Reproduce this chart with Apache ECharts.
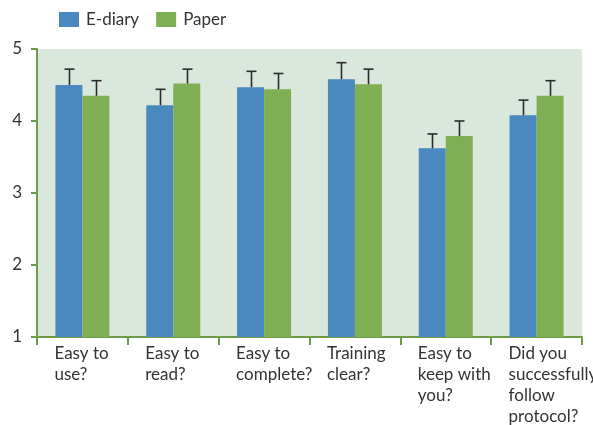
<!DOCTYPE html>
<html>
<head>
<meta charset="utf-8">
<script src="https://cdn.jsdelivr.net/npm/echarts@6/dist/echarts.min.js"></script>
<style>html,body{margin:0;padding:0;background:#fff}#c{width:593px;height:425px}</style>
</head>
<body>
<div id="c"></div>
<script>
const categories = ['Easy to\nuse?', 'Easy to\nread?', 'Easy to\ncomplete?', 'Training\nclear?', 'Easy to\nkeep with\nyou?', 'Did you\nsuccessfully\nfollow\nprotocol?'];
const seriesNames = ['E-diary', 'Paper'];
const ediary = [4.50, 4.22, 4.47, 4.58, 3.62, 4.08];
const ediaryUpper = [4.72, 4.44, 4.69, 4.81, 3.82, 4.29];
const paper = [4.35, 4.52, 4.44, 4.51, 3.79, 4.35];
const paperUpper = [4.56, 4.72, 4.66, 4.72, 4.00, 4.56];
const yTicks = [1, 2, 3, 4, 5];

const FONT = 'Lato, "Liberation Sans", sans-serif';
const AXIS_GREEN = '#6d9b47';
const BAR_W = 27;

function errSeries(vals, uppers, dir) {
  return {
    type: 'custom',
    data: vals.map((v, i) => [i, v, uppers[i]]),
    z: 5,
    silent: true,
    renderItem: function (params, api) {
      const p0 = api.coord([api.value(0), api.value(1)]);
      const p1 = api.coord([api.value(0), api.value(2)]);
      const x = Math.round(p0[0] + dir * BAR_W / 2) + 0.5;
      const style = { stroke: '#2b2b2b', lineWidth: 1.6 };
      return {
        type: 'group',
        children: [
          { type: 'line', shape: { x1: x, y1: p0[1], x2: x, y2: p1[1] }, style: style },
          { type: 'line', shape: { x1: x - 5, y1: p1[1], x2: x + 5, y2: p1[1] }, style: style }
        ]
      };
    }
  };
}

// category labels, left-aligned under the first bar of each group
const labelSeries = {
  type: 'custom',
  data: categories.map((c, i) => [i, yTicks[0]]),
  silent: true,
  clip: false,
  z: 10,
  renderItem: function (params, api) {
    const p = api.coord([api.value(0), api.value(1)]);
    return {
      type: 'text',
      x: p[0] - BAR_W - 1,
      y: p[1] + 6,
      style: {
        text: categories[params.dataIndex],
        font: '17px ' + FONT,
        fill: '#333',
        lineHeight: 21,
        align: 'left',
        verticalAlign: 'top'
      }
    };
  }
};

const chart = echarts.init(document.getElementById('c'));
chart.setOption({
  animation: false,
  textStyle: { fontFamily: FONT },
  legend: {
    left: 59, top: 11, padding: 0,
    itemWidth: 20, itemHeight: 15, itemGap: 17,
    icon: 'rect',
    data: seriesNames,
    textStyle: { fontFamily: FONT, fontSize: 17, color: '#333', padding: [0, 0, 0, 2] }
  },
  grid: {
    left: 37, right: 11, top: 49, bottom: 88,
    outerBoundsMode: 'none', containLabel: false,
    show: true, backgroundColor: '#dae7dd', borderWidth: 0
  },
  xAxis: {
    type: 'category',
    data: categories,
    axisLine: { lineStyle: { color: AXIS_GREEN, width: 2 } },
    axisTick: { show: true, length: 8, lineStyle: { color: AXIS_GREEN, width: 2 } },
    axisLabel: { show: false }
  },
  yAxis: {
    type: 'value', min: yTicks[0], max: yTicks[yTicks.length - 1], interval: 1,
    splitLine: { show: false },
    axisLine: { show: true, lineStyle: { color: AXIS_GREEN, width: 2 } },
    axisTick: { show: true, length: 6, lineStyle: { color: AXIS_GREEN, width: 2 } },
    axisLabel: { margin: 15, color: '#333', fontFamily: FONT, fontSize: 17 }
  },
  series: [
    { name: seriesNames[0], type: 'bar', data: ediary, barWidth: BAR_W, barGap: '0%', itemStyle: { color: '#4a89bf' } },
    { name: seriesNames[1], type: 'bar', data: paper, barWidth: BAR_W, barGap: '0%', itemStyle: { color: '#7faf55' } },
    errSeries(ediary, ediaryUpper, -1),
    errSeries(paper, paperUpper, 1),
    labelSeries
  ]
});
</script>
</body>
</html>
